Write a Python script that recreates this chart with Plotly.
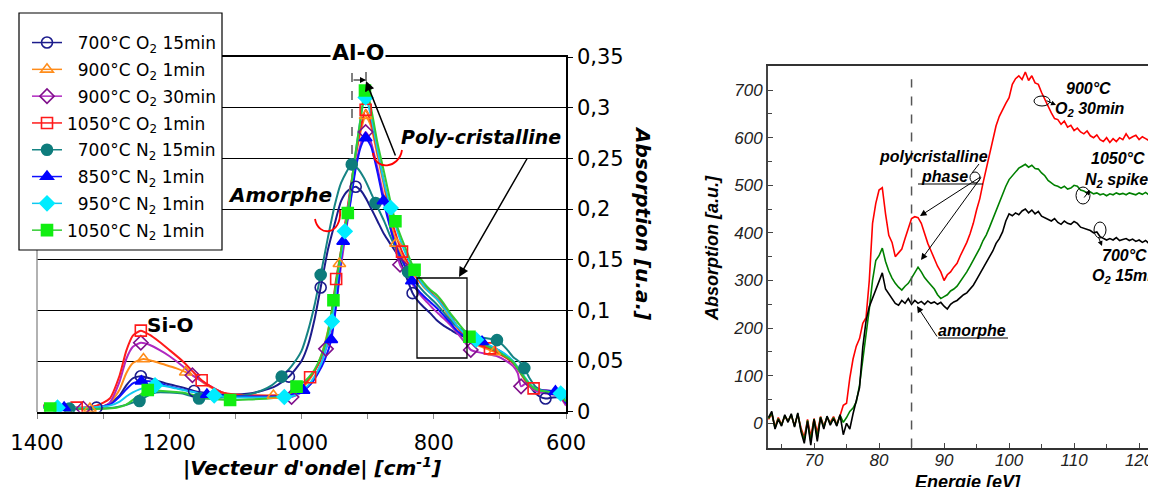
import plotly.graph_objects as go

# The page body adds an 8 px margin, so the figure is drawn 8 px smaller and
# every layout position (given in window pixels) is shifted by that offset.
OFF = 8
W, H = 1156 - OFF, 487 - OFF


def pxx(x):
    return (x - OFF) / W


def pyy(y):
    return 1 - (y - OFF) / H


# ---------------- LEFT PANEL DATA (FTIR) ----------------
series_names = [
    "\u00a0\u00a0700°C O<sub>2</sub> 15min",
    "\u00a0\u00a0900°C O<sub>2</sub> 1min",
    "\u00a0\u00a0900°C O<sub>2</sub> 30min",
    "1050°C O<sub>2</sub> 1min",
    "\u00a0\u00a0700°C N<sub>2</sub> 15min",
    "\u00a0\u00a0850°C N<sub>2</sub> 1min",
    "\u00a0\u00a0950°C N<sub>2</sub> 1min",
    "1050°C N<sub>2</sub> 1min",
]

o700_x = [1390, 1340, 1310, 1290, 1275, 1265, 1255, 1243, 1235, 1220, 1200, 1180, 1162.5, 1140, 1120, 1100, 1070, 1040,
          1019, 1000, 990, 980, 971, 960, 950, 940, 930, 918, 910, 903, 895, 885, 875, 865, 855, 845, 832, 825, 815,
          805, 795, 785, 775, 765, 755, 745, 735, 720, 705, 690, 680, 670, 660, 650, 640, 631, 620, 610, 600]
o700_y = [0.006, 0.004, 0.004, 0.008, 0.016, 0.026, 0.033, 0.035, 0.034, 0.031, 0.027, 0.024, 0.0204, 0.018, 0.017,
          0.017, 0.019, 0.025, 0.0346, 0.050, 0.066, 0.092, 0.1226, 0.160, 0.185, 0.208, 0.218, 0.222, 0.218, 0.211,
          0.201, 0.188, 0.175, 0.165, 0.155, 0.139, 0.117, 0.110, 0.103, 0.097, 0.090, 0.085, 0.081, 0.077, 0.074,
          0.071, 0.068, 0.064, 0.060, 0.054, 0.049, 0.040, 0.030, 0.021, 0.015, 0.013, 0.014, 0.014, 0.010]
o700_mk = [1310, 1243, 1162.5, 1019, 971, 918, 832, 631]

o900a_x = [1390, 1350, 1320, 1300, 1290, 1275, 1265, 1255, 1239, 1225, 1210, 1190, 1175, 1160, 1140, 1120, 1100, 1070,
           1042.5, 1020, 1000, 990, 980, 970, 960, 950, 942.7, 930, 920, 910, 903, 895, 885, 875, 865, 857, 845, 835,
           825, 815, 805, 795, 785, 775, 765, 755, 745, 735, 720, 708.5, 690, 680, 670, 660, 650, 640, 630, 620, 610,
           600]
o900a_y = [0.006, 0.004, 0.003, 0.005, 0.008, 0.022, 0.038, 0.048, 0.052, 0.050, 0.047, 0.043, 0.039, 0.034, 0.025,
           0.019, 0.016, 0.016, 0.016, 0.017, 0.023, 0.030, 0.040, 0.056, 0.080, 0.115, 0.146, 0.200, 0.245, 0.278,
           0.292, 0.282, 0.252, 0.222, 0.188, 0.166, 0.150, 0.139, 0.131, 0.123, 0.117, 0.111, 0.102, 0.092, 0.083,
           0.076, 0.070, 0.066, 0.062, 0.059, 0.053, 0.048, 0.039, 0.029, 0.022, 0.020, 0.020, 0.019, 0.016, 0.008]
o900a_mk = [1320, 1239, 1175, 1042.5, 942.7, 903, 857, 708.5]

o900b_x = [1390, 1350, 1330, 1300, 1290, 1275, 1265, 1255, 1243, 1230, 1215, 1200, 1180, 1165, 1140, 1120, 1100, 1070,
           1040, 1015, 1000, 990, 980, 970, 963, 955, 950, 940, 930, 920, 910, 903, 895, 885, 875, 865, 851, 840, 830,
           820, 810, 800, 790, 780, 770, 760, 750, 744, 735, 720, 705, 690, 680, 673, 668, 660, 650, 640, 630, 620,
           610, 600]
o900b_y = [0.006, 0.004, 0.003, 0.005, 0.009, 0.030, 0.052, 0.064, 0.068, 0.066, 0.061, 0.055, 0.045, 0.036, 0.026,
           0.019, 0.015, 0.014, 0.014, 0.0145, 0.019, 0.025, 0.034, 0.048, 0.062, 0.076, 0.093, 0.145, 0.190, 0.235,
           0.265, 0.276, 0.266, 0.240, 0.210, 0.180, 0.145, 0.134, 0.124, 0.115, 0.108, 0.101, 0.095, 0.089, 0.082,
           0.074, 0.066, 0.061, 0.059, 0.057, 0.055, 0.050, 0.045, 0.038, 0.025, 0.028, 0.022, 0.019, 0.018, 0.017,
           0.015, 0.006]
o900b_mk = [1330, 1243, 1165, 1015, 963, 903, 851, 744, 668]

o1050_x = [1390, 1340, 1310, 1290, 1275, 1265, 1255, 1243, 1230, 1215, 1200, 1180, 1165, 1151, 1135, 1120, 1100, 1070,
           1040, 1020, 1000, 987, 975, 965, 957, 947.6, 940, 930, 920, 910, 903, 895, 885, 875, 865, 855, 848, 840,
           830, 820, 810, 800, 790, 780, 770, 760, 750, 740, 728, 715, 705, 690, 680, 670, 660, 649, 640, 630, 620,
           610, 600]
o1050_y = [0.006, 0.004, 0.006, 0.013, 0.036, 0.060, 0.075, 0.080, 0.076, 0.069, 0.061, 0.050, 0.040, 0.031, 0.024,
           0.019, 0.017, 0.016, 0.016, 0.017, 0.024, 0.034, 0.046, 0.063, 0.085, 0.131, 0.160, 0.203, 0.246, 0.282,
           0.298, 0.286, 0.256, 0.226, 0.193, 0.170, 0.158, 0.148, 0.138, 0.128, 0.121, 0.115, 0.109, 0.100, 0.090,
           0.080, 0.073, 0.068, 0.065, 0.0625, 0.059, 0.053, 0.048, 0.040, 0.030, 0.023, 0.021, 0.021, 0.020, 0.016,
           0.008]
o1050_mk = [1340, 1243, 1151, 987, 947.6, 903, 848, 715, 649]

n700_x = [1390, 1351, 1310, 1285, 1270, 1255, 1245, 1235, 1220, 1200, 1180, 1155, 1140, 1120, 1100, 1080, 1060, 1045,
          1030, 1015, 1000, 990, 980, 971, 960, 950, 940, 924, 915, 905, 895, 888, 875, 865, 855, 839, 830, 820, 810,
          800, 790, 780, 770, 760, 750, 740, 725, 704.4, 690, 680, 670, 663, 655, 645, 635, 625, 615, 605, 600]
n700_y = [0.004, 0.003, 0.003, 0.004, 0.006, 0.009, 0.0105, 0.015, 0.019, 0.019, 0.018, 0.013, 0.013, 0.014, 0.015,
          0.017, 0.021, 0.026, 0.0346, 0.045, 0.060, 0.080, 0.106, 0.135, 0.172, 0.203, 0.226, 0.244, 0.240, 0.230,
          0.216, 0.206, 0.188, 0.172, 0.158, 0.138, 0.130, 0.122, 0.115, 0.109, 0.102, 0.094, 0.087, 0.082, 0.079,
          0.076, 0.073, 0.0706, 0.062, 0.054, 0.049, 0.043, 0.033, 0.024, 0.021, 0.020, 0.019, 0.018, 0.014]
n700_mk = [1351, 1245, 1155, 1030, 971, 924, 888, 839, 704.4, 663]

n850_x = [1390, 1359, 1320, 1290, 1275, 1265, 1255, 1242, 1230, 1215, 1200, 1180, 1160, 1143, 1120, 1100, 1070, 1040,
          1020, 997, 985, 975, 965, 955, 947, 937, 928, 918, 910, 903, 895, 885, 876, 865, 855, 845, 833, 825, 815,
          805, 795, 785, 775, 765, 755, 745, 727, 715, 700, 690, 680, 670, 660, 650, 640, 630, 616, 608, 600]
n850_y = [0.005, 0.004, 0.004, 0.007, 0.015, 0.022, 0.028, 0.030, 0.030, 0.028, 0.025, 0.022, 0.019, 0.017, 0.016,
          0.015, 0.015, 0.015, 0.016, 0.021, 0.028, 0.038, 0.051, 0.071, 0.110, 0.168, 0.198, 0.240, 0.262, 0.270,
          0.262, 0.236, 0.208, 0.180, 0.160, 0.146, 0.129, 0.121, 0.114, 0.108, 0.102, 0.095, 0.088, 0.080, 0.075,
          0.071, 0.069, 0.065, 0.060, 0.055, 0.049, 0.040, 0.031, 0.024, 0.021, 0.021, 0.020, 0.017, 0.008]
n850_mk = [1359, 1242, 1143, 997, 955, 937, 903, 876, 833, 727, 616]

n950_x = [1390, 1369, 1330, 1290, 1275, 1265, 1255, 1245, 1235, 1221.5, 1205, 1190, 1175, 1160, 1145, 1132, 1120, 1100,
          1070, 1040, 1026, 1010, 1000, 990, 980, 970, 962, 954, 945, 934.5, 925, 915, 908, 903, 895, 885, 875, 865,
          855, 845, 835, 825, 815, 805, 795, 785, 775, 765, 755, 745, 736, 720, 705, 690, 680, 670, 660, 650, 640,
          630, 620, 608, 600]
n950_y = [0.005, 0.004, 0.004, 0.006, 0.010, 0.015, 0.019, 0.022, 0.024, 0.026, 0.025, 0.023, 0.021, 0.019, 0.017,
          0.016, 0.015, 0.014, 0.014, 0.014, 0.0145, 0.016, 0.020, 0.026, 0.035, 0.048, 0.065, 0.089, 0.135, 0.178,
          0.222, 0.270, 0.300, 0.310, 0.292, 0.258, 0.226, 0.201, 0.178, 0.160, 0.146, 0.134, 0.124, 0.117, 0.111,
          0.103, 0.094, 0.085, 0.078, 0.073, 0.071, 0.067, 0.062, 0.056, 0.050, 0.041, 0.032, 0.024, 0.021, 0.020,
          0.019, 0.018, 0.012]
n950_mk = [1369, 1221.5, 1132, 1026, 954, 934.5, 903, 865, 736, 608]

n1050_x = [1390, 1380, 1340, 1300, 1280, 1265, 1250, 1232.5, 1220, 1200, 1180, 1160, 1140, 1125, 1108, 1080, 1050, 1030,
           1020, 1007.5, 995, 985, 975, 965, 958, 951.7, 940, 930, 920, 910, 904, 897, 885, 875, 865, 858, 845, 829,
           815, 805, 795, 785, 775, 765, 755, 746, 735, 720, 705, 690, 680, 670, 660, 650, 640, 630, 620, 610, 600]
n1050_y = [0.004, 0.003, 0.003, 0.003, 0.004, 0.007, 0.014, 0.0214, 0.021, 0.020, 0.019, 0.016, 0.013, 0.012, 0.0115,
           0.012, 0.013, 0.015, 0.017, 0.0247, 0.030, 0.037, 0.048, 0.065, 0.085, 0.110, 0.160, 0.196, 0.248, 0.292,
           0.317, 0.306, 0.265, 0.236, 0.206, 0.188, 0.165, 0.140, 0.127, 0.120, 0.115, 0.107, 0.097, 0.089, 0.081,
           0.074, 0.070, 0.065, 0.060, 0.054, 0.049, 0.040, 0.031, 0.024, 0.021, 0.020, 0.019, 0.017, 0.010]
n1050_mk = [1380, 1232.5, 1108, 1007.5, 951.7, 930, 904, 858, 829, 746]

left_xticks = [1400, 1200, 1000, 800, 600]
left_xminor = [1300, 1100, 900, 700]
left_yticks = [0, 0.05, 0.1, 0.15, 0.2, 0.25, 0.3, 0.35]
left_yticktext = ["0", "0,05", "0,1", "0,15", "0,2", "0,25", "0,3", "0,35"]

# ---------------- RIGHT PANEL DATA (XAS) ----------------
energy = [
    63.0, 63.5, 64.0, 64.5, 65.0, 65.5, 66.0, 66.5, 67.0, 67.5,
    68.0, 68.5, 69.0, 69.5, 70.0, 70.5, 71.0, 71.5, 72.0, 72.5,
    73.0, 73.5, 74.0, 74.5, 75.0, 75.5, 76.0, 76.5, 77.0, 77.5,
    78.0, 78.5, 79.0, 79.5, 80.0, 80.5, 81.0, 81.5, 82.0, 82.5,
    83.0, 83.5, 84.0, 84.5, 85.0, 85.5, 86.0, 86.5, 87.0, 87.5,
    88.0, 88.5, 89.0, 89.5, 90.0, 90.5, 91.0, 91.5, 92.0, 92.5,
    93.0, 93.5, 94.0, 94.5, 95.0, 95.5, 96.0, 96.5, 97.0, 97.5,
    98.0, 98.5, 99.0, 99.5, 100.0, 100.5, 101.0, 101.5, 102.0, 102.5,
    103.0, 103.5, 104.0, 104.5, 105.0, 105.5, 106.0, 106.5, 107.0, 107.5,
    108.0, 108.5, 109.0, 109.5, 110.0, 110.5, 111.0, 111.5, 112.0, 112.5,
    113.0, 113.5, 114.0, 114.5, 115.0, 115.5, 116.0, 116.5, 117.0, 117.5,
    118.0, 118.5, 119.0, 119.5, 120.0, 120.5, 121.0, 121.5, 122.0, 122.5,
]
abs_900_o2_30 = [
    8, 20, -8, 12, -2, 14, 6, 16, -4, 18,
    -10, -30, 8, -28, 10, -20, 14, -6, 12, 2,
    14, -2, 16, 38, 42, 95, 135, 162, 178, 210,
    222, 300, 420, 462, 490, 495, 440, 395, 380, 350,
    358, 366, 388, 408, 430, 434, 432, 420, 398, 378,
    362, 345, 330, 318, 300, 312, 318, 328, 336, 352,
    365, 380, 398, 420, 448, 472, 505, 535, 565, 592,
    625, 645, 660, 672, 684, 712, 724, 730, 722, 738,
    720, 730, 715, 712, 695, 680, 668, 652, 640, 638,
    628, 635, 622, 626, 615, 620, 612, 608, 614, 604,
    600, 606, 596, 592, 600, 590, 598, 592, 600, 596,
    608, 598, 602, 605, 596, 602, 598, 594, 600, 598,
]
abs_1050_n2 = [
    10, 22, -10, 10, -4, 16, 4, 18, -6, 20,
    -14, -36, 6, -38, 9, -30, 13, -9, 14, -1,
    12, -4, 17, 2, 12, 25, 32, 45, 80, 130,
    185, 240, 300, 342, 352, 368, 340, 320, 305, 294,
    286, 280, 288, 294, 305, 318, 328, 318, 306, 298,
    290, 282, 270, 262, 266, 270, 278, 282, 288, 298,
    306, 318, 330, 342, 356, 368, 384, 396, 412, 430,
    448, 465, 482, 498, 512, 520, 528, 536, 540, 544,
    538, 542, 535, 534, 526, 520, 510, 505, 500, 498,
    494, 498, 492, 494, 500, 498, 490, 488, 484, 486,
    482, 484, 480, 482, 478, 482, 480, 484, 481, 483,
    480, 484, 482, 480, 484, 481, 485, 480, 482, 478,
]
abs_700_o2_15 = [
    12, 25, -12, 8, -6, 18, 2, 20, -8, 22,
    -18, -42, 4, -46, 8, -38, 12, -12, 15, -4,
    10, -6, 18, -24, 0, -12, 20, 48, 75, 160,
    215, 245, 262, 282, 298, 316, 282, 272, 260, 252,
    248, 258, 252, 262, 250, 258, 252, 256, 250, 257,
    252, 255, 250, 254, 246, 240, 250, 255, 258, 265,
    270, 274, 282, 290, 302, 315, 328, 338, 350, 362,
    378, 388, 402, 425, 440, 436, 442, 438, 446, 450,
    442, 448, 440, 445, 435, 432, 428, 425, 430, 422,
    418, 425, 420, 418, 424, 420, 412, 410, 408, 405,
    400, 402, 392, 388, 385, 388, 385, 390, 384, 386,
    388, 384, 387, 382, 385, 380, 384, 378, 376, 368,
]
right_xticks = [70, 80, 90, 100, 110, 120]
right_yticks = [0, 100, 200, 300, 400, 500, 600, 700]

# ---------------- STYLES ----------------
left_series = [
    (o700_x, o700_y, o700_mk, "#1c1c8c", "#1c1c8c", "circle-open"),
    (o900a_x, o900a_y, o900a_mk, "#ff8c1a", "#ff8c1a", "triangle-up-open"),
    (o900b_x, o900b_y, o900b_mk, "#b028c0", "#80108c", "diamond-open"),
    (o1050_x, o1050_y, o1050_mk, "#ff1a1a", "#ff1a1a", "square-open"),
    (n700_x, n700_y, n700_mk, "#168484", "#0e7c7c", "circle"),
    (n850_x, n850_y, n850_mk, "#1010ff", "#0000ff", "triangle-up"),
    (n950_x, n950_y, n950_mk, "#10c8f0", "#00ecff", "diamond"),
    (n1050_x, n1050_y, n1050_mk, "#33cc33", "#11ee11", "square"),
]

LF = "DejaVu Sans"
RF = "Liberation Sans"

fig = go.Figure()

for i, (name, (xs, ys, mk, lc, mc, sym)) in enumerate(zip(series_names, left_series)):
    fig.add_trace(go.Scatter(x=xs, y=ys, mode="lines", line=dict(color=lc, width=2, shape="spline", smoothing=0.6),
                             showlegend=False, hoverinfo="skip", xaxis="x", yaxis="y", legendgroup="g%d" % i))
for i, (name, (xs, ys, mk, lc, mc, sym)) in enumerate(zip(series_names, left_series)):
    my = [ys[xs.index(m)] for m in mk]
    fig.add_trace(go.Scatter(x=mk, y=my, mode="markers",
                             marker=dict(symbol=sym, size=11, color=mc, line=dict(width=1.6, color=mc)),
                             showlegend=False, xaxis="x", yaxis="y", legendgroup="g%d" % i))
for i, (name, (xs, ys, mk, lc, mc, sym)) in enumerate(zip(series_names, left_series)):
    fig.add_trace(go.Scatter(x=[None], y=[None], mode="lines+markers", name=name,
                             line=dict(color=lc, width=1.5),
                             marker=dict(symbol=sym, size=11, color=mc, line=dict(width=1.6, color=mc)),
                             xaxis="x", yaxis="y", legendgroup="g%d" % i))

fig.add_trace(go.Scatter(x=energy, y=abs_900_o2_30, mode="lines", line=dict(color="#ff0000", width=1.6),
                         showlegend=False, xaxis="x2", yaxis="y2"))
fig.add_trace(go.Scatter(x=energy, y=abs_1050_n2, mode="lines", line=dict(color="#008000", width=1.6),
                         showlegend=False, xaxis="x2", yaxis="y2"))
fig.add_trace(go.Scatter(x=energy, y=abs_700_o2_15, mode="lines", line=dict(color="#000000", width=1.6),
                         showlegend=False, xaxis="x2", yaxis="y2"))


def txt(x, y, text, size, family, bold=False, italic=False, xanchor="center", angle=0, bg=None, color="black"):
    d = dict(x=pxx(x), y=pyy(y), xref="paper", yref="paper", text=text, showarrow=False,
             xanchor=xanchor, yanchor="middle", textangle=angle,
             font=dict(family=family, size=size, color=color,
                       weight="bold" if bold else "normal", style="italic" if italic else "normal"))
    if bg:
        d["bgcolor"] = bg
    return d


def arrow(hx, hy, tx, ty, width=1.3, size=1.2, head=2):
    return dict(x=pxx(hx), y=pyy(hy), xref="paper", yref="paper", ax=tx - hx, ay=ty - hy,
                axref="pixel", ayref="pixel", text="", showarrow=True, arrowhead=head,
                arrowsize=size, arrowwidth=width, arrowcolor="black")


annotations = [
    # left panel
    txt(358, 52, "Al-O", 22, LF, bold=True, bg="white"),
    txt(170, 325, "Si-O", 20, LF, bold=True),
    txt(280, 195, "Amorphe", 20, LF, bold=True, italic=True),
    txt(481, 137, "Poly-cristalline", 19, LF, bold=True, italic=True),
    txt(312, 467, "|Vecteur d'onde| [cm<sup>-1</sup>]", 20, LF, bold=True, italic=True),
    txt(643, 223, "Absorption [u.a.]", 20, LF, bold=True, italic=True, angle=90),
    arrow(366, 81, 396, 157, width=1.5, size=1.3),
    arrow(459, 277, 528, 157, width=1.5, size=1.3),
    arrow(366, 80, 352, 80, width=1.0, size=1.2),
    # right panel
    txt(933, 157, "polycristalline", 16, RF, bold=True, italic=True),
    txt(944, 176, "phase", 16, RF, bold=True, italic=True),
    txt(972, 330, "amorphe", 16, RF, bold=True, italic=True),
    txt(1088, 89, "900°C", 16, RF, bold=True, italic=True),
    txt(1090, 110, "O<sub>2</sub> 30min", 16, RF, bold=True, italic=True),
    txt(1118, 159, "1050°C", 16, RF, bold=True, italic=True),
    txt(1116, 180, "N<sub>2</sub> spike", 16, RF, bold=True, italic=True),
    txt(1124, 255, "700°C", 16, RF, bold=True, italic=True),
    txt(1090, 276, "O<sub>2</sub> 15min", 16, RF, bold=True, italic=True, xanchor="left"),
    txt(968, 482, "Energie [eV]", 18, RF, bold=True, italic=True),
    txt(712, 248, "Absorption [a.u.]", 18, RF, bold=True, italic=True, angle=-90),
    arrow(920, 216, 982, 176, width=1.0, size=1.3),
    arrow(921, 260, 982, 176, width=1.0, size=1.3),
    arrow(917, 306, 938, 338, width=1.0, size=1.3),
    arrow(1056, 105, 1045, 100, width=1.0, size=1.0),
    arrow(1090, 190, 1083, 199, width=1.0, size=1.0),
    arrow(1102, 246, 1098, 236, width=1.0, size=1.0),
]


def line_shape(x0, y0, x1, y1, color="black", width=1.2, dash="solid"):
    return dict(type="line", xref="paper", yref="paper", x0=pxx(x0), y0=pyy(y0), x1=pxx(x1), y1=pyy(y1),
                line=dict(color=color, width=width, dash=dash))


def path_shape(pts, color, width=1.8):
    (x0, y0), (c1x, c1y), (c2x, c2y), (x1, y1) = pts
    p = "M {:.5f},{:.5f} C {:.5f},{:.5f} {:.5f},{:.5f} {:.5f},{:.5f}".format(
        pxx(x0), pyy(y0), pxx(c1x), pyy(c1y), pxx(c2x), pyy(c2y), pxx(x1), pyy(y1))
    return dict(type="path", xref="paper", yref="paper", path=p, line=dict(color=color, width=width))


def ellipse(x0, y0, x1, y1):
    return dict(type="circle", xref="paper", yref="paper", x0=pxx(x0), y0=pyy(y1), x1=pxx(x1), y1=pyy(y0),
                line=dict(color="black", width=1))


shapes = [
    line_shape(37, 57, 37, 412, color="#999999", width=1.5),
    dict(type="rect", xref="paper", yref="paper", x0=pxx(417), y0=pyy(358), x1=pxx(467), y1=pyy(278),
         line=dict(color="black", width=1.3)),
    line_shape(352, 73, 352, 160, width=1, dash="dash"),
    line_shape(366, 72, 366, 92, width=1, dash="dash"),
    path_shape([(373, 153), (375, 171), (399, 169), (402, 150)], "red"),
    path_shape([(315, 219), (318, 237), (342, 236), (340, 210)], "red"),
    # legend frame (white box drawn above the plot, legend entries sit on it)
    dict(type="rect", xref="paper", yref="paper", x0=pxx(19), y0=pyy(250), x1=pxx(222), y1=pyy(13),
         line=dict(color="black", width=1.2), fillcolor="white", layer="above"),
    dict(type="line", xref="x2", yref="y2", x0=85, x1=85, y0=-51, y1=723,
         line=dict(color="#555555", width=1.5, dash="dash")),
    line_shape(918, 184, 983, 184, width=1),
    line_shape(938, 338, 1008, 338, width=1),
    ellipse(970, 172, 980, 183),
    line_shape(972, 173, 979, 164, width=1),
    ellipse(1034, 96, 1050, 106),
    ellipse(1076, 187, 1090, 204),
    ellipse(1094, 222, 1106, 238),
]

fig.update_layout(
    width=W, height=H,
    margin=dict(l=0, r=0, t=0, b=0, pad=0, autoexpand=False),
    paper_bgcolor="white", plot_bgcolor="white",
    showlegend=True,
    legend=dict(x=pxx(27), y=pyy(25), xanchor="left", yanchor="top", bgcolor="rgba(0,0,0,0)",
                borderwidth=0, font=dict(family=LF, size=17, color="black"),
                itemwidth=30, tracegroupgap=1.7),
    xaxis=dict(domain=[pxx(37), pxx(566)], range=[1400, 600], anchor="y", automargin=False,
               showline=True, linecolor="black", linewidth=1.6, mirror=True,
               tickmode="array", tickvals=left_xticks, ticktext=[str(v) for v in left_xticks],
               ticks="outside", ticklen=5, tickcolor="#888888", ticklabelstandoff=6,
               minor=dict(tickmode="array", tickvals=left_xminor, ticks="outside", ticklen=5, tickcolor="#888888"),
               tickfont=dict(family=LF, size=21, color="black"), showgrid=False, zeroline=False),
    yaxis=dict(domain=[pyy(411.7), pyy(57)], range=[0, 0.35], anchor="x", side="right", automargin=False,
               showline=True, linecolor="black", linewidth=1.5,
               tickmode="array", tickvals=left_yticks, ticktext=left_yticktext,
               ticks="outside", ticklen=5, tickcolor="black",
               tickfont=dict(family=LF, size=21, color="black"),
               showgrid=True, gridcolor="black", gridwidth=1.2, zeroline=False),
    xaxis2=dict(domain=[pxx(768), 1.0], range=[62.92, 122.6], anchor="y2", automargin=False,
                showline=True, linecolor="#333333", linewidth=2, mirror=True,
                tickmode="array", tickvals=right_xticks, ticks="inside", ticklen=5, tickcolor="#444444",
                ticklabelstandoff=-4,
                minor=dict(dtick=5, ticks="inside", ticklen=4, tickcolor="#444444"),
                tickfont=dict(family=RF, size=17, color="#222222", style="italic"),
                showgrid=False, zeroline=False),
    yaxis2=dict(domain=[pyy(447.7), pyy(66)], range=[-51.3, 750.6], anchor="x2", automargin=False,
                showline=True, linecolor="#444444", linewidth=2,
                tickmode="array", tickvals=right_yticks, ticks="inside", ticklen=5, tickcolor="#444444",
                minor=dict(dtick=50, ticks="inside", ticklen=4, tickcolor="#444444"),
                tickfont=dict(family=RF, size=17, color="#222222", style="italic"),
                showgrid=False, zeroline=False),
    annotations=annotations,
    shapes=shapes,
)

fig.write_html("out.html")
